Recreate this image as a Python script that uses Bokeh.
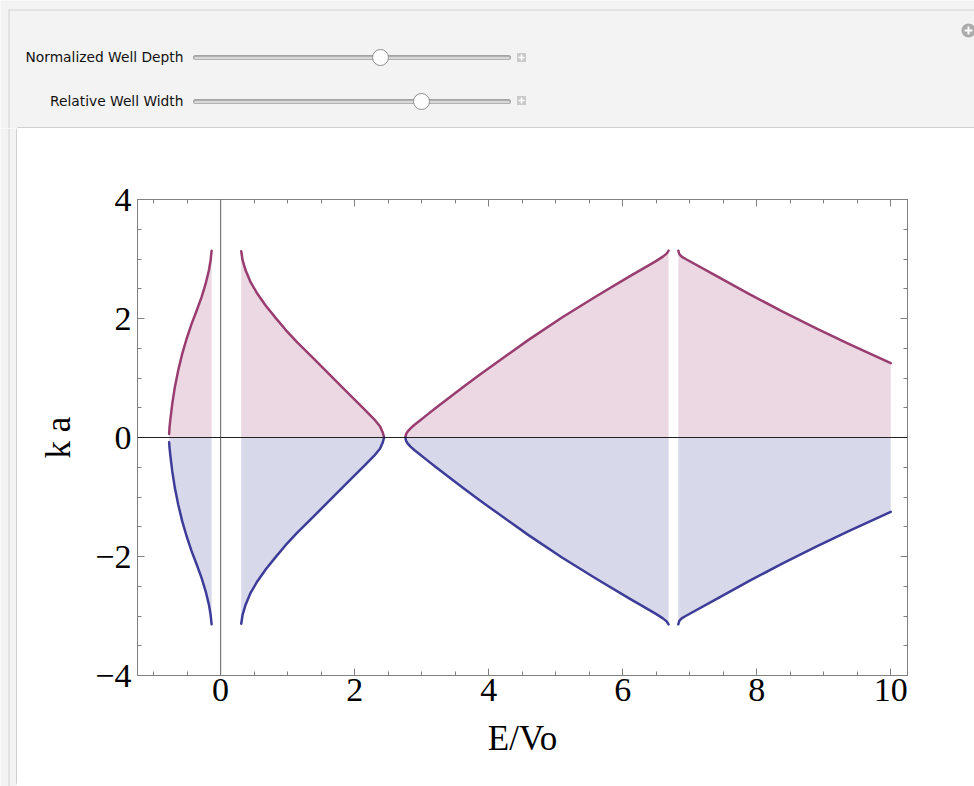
from bokeh.plotting import figure
from bokeh.layouts import column, row
from bokeh.models import Range1d, FixedTicker, LinearAxis, Span
from bokeh.core.properties import value
from bokeh.embed import file_html
from bokeh.resources import INLINE

# ---------------- data ----------------
band1_E = [-0.768, -0.762, -0.751, -0.721, -0.682, -0.632, -0.572, -0.507, -0.433, -0.358, -0.284, -0.224, -0.174, -0.149, -0.134]
band1_up = [0.06, 0.17, 0.29, 0.57, 0.85, 1.13, 1.41, 1.66, 1.91, 2.13, 2.36, 2.58, 2.81, 2.98, 3.14]
band1_dn = [-0.08, -0.17, -0.29, -0.57, -0.85, -1.13, -1.41, -1.66, -1.91, -2.13, -2.36, -2.58, -2.81, -2.98, -3.14]

band2_E = [0.308, 0.328, 0.373, 0.448, 0.547, 0.672, 0.821, 0.970, 1.144, 1.393, 1.642, 1.891, 2.139, 2.289, 2.378, 2.418, 2.433, 2.44]
band2_up = [3.13, 2.98, 2.81, 2.61, 2.42, 2.22, 2.01, 1.81, 1.60, 1.32, 1.04, 0.76, 0.48, 0.31, 0.19, 0.09, 0.03, 0.0]
band2_dn = [-3.13, -2.98, -2.81, -2.61, -2.42, -2.22, -2.01, -1.81, -1.60, -1.32, -1.04, -0.76, -0.48, -0.31, -0.19, -0.09, -0.03, 0.0]

band3_E = [2.76, 2.762, 2.77, 2.79, 2.83, 2.89, 2.97, 3.08, 3.21, 3.40, 3.61, 3.85, 4.10, 4.60, 5.10, 5.60, 6.09, 6.49, 6.60, 6.655, 6.685]
band3_up = [0.0, 0.03, 0.06, 0.10, 0.15, 0.21, 0.28, 0.38, 0.495, 0.66, 0.84, 1.04, 1.245, 1.645, 2.02, 2.37, 2.70, 2.96, 3.04, 3.09, 3.14]
band3_dn = [0.0, -0.03, -0.06, -0.10, -0.15, -0.21, -0.28, -0.38, -0.495, -0.66, -0.84, -1.04, -1.245, -1.645, -2.02, -2.37, -2.70, -2.96, -3.04, -3.09, -3.14]

band4_E = [6.83, 6.845, 6.88, 6.94, 7.39, 7.89, 8.38, 8.88, 9.38, 10.0]
band4_up = [3.14, 3.08, 3.04, 3.00, 2.72, 2.41, 2.12, 1.84, 1.57, 1.25]
band4_dn = [-3.14, -3.08, -3.04, -3.00, -2.72, -2.41, -2.12, -1.84, -1.57, -1.25]

x_ticks = [0, 2, 4, 6, 8, 10]
x_tick_labels = ["0", "2", "4", "6", "8", "10"]
y_ticks = [-4, -2, 0, 2, 4]
y_tick_labels = ["\u22124", "\u22122", "0", "2", "4"]
x_minor = [-1.0, -0.5, 0.5, 1.0, 1.5, 2.5, 3.0, 3.5, 4.5, 5.0, 5.5, 6.5, 7.0, 7.5, 8.5, 9.0, 9.5]
y_minor = [-3.5, -3.0, -2.5, -1.5, -1.0, -0.5, 0.5, 1.0, 1.5, 2.5, 3.0, 3.5]

control_labels = ["Normalized Well Depth", "Relative Well Width"]

UP_LINE = "#993D71"
DN_LINE = "#3D3D99"
UP_FILL = "#EBD8E3"
DN_FILL = "#D8D8EB"
PANEL = "#F3F3F3"
SERIF = "Liberation Serif"


def bare(fig):
    fig.axis.visible = False
    fig.grid.visible = False
    fig.outline_line_color = None
    fig.background_fill_color = PANEL
    fig.border_fill_color = PANEL


# ---------------- controls panel (page y 0..128) ----------------
c = figure(width=974, height=128, x_range=Range1d(0, 974), y_range=Range1d(128, 0),
           output_backend="svg", toolbar_location=None, min_border=0)
bare(c)
c.segment(x0=[8, 8.5], y0=[9.5, 9], x1=[974, 8.5], y1=[9.5, 128], line_color="#D2D2D2", line_width=1)
c.segment(x0=[17], y0=[127.5], x1=[974], y1=[127.5], line_color="#C4C4C4", line_width=1.5)

label_y = [56, 100]
knob_x = [380, 421]
c.text(x=[183, 183], y=label_y, text=control_labels, text_align="right", text_baseline="middle",
       text_font=value("DejaVu Sans"), text_font_size="13.8px", text_color="#111111")
c.segment(x0=[195, 195], y0=[57, 101], x1=[508, 508], y1=[57, 101], line_color="#A4A4A4",
          line_width=5, line_cap="round")
c.segment(x0=[195, 195], y0=[57.5, 101.5], x1=[508, 508], y1=[57.5, 101.5], line_color="#D8D8D8",
          line_width=2.5, line_cap="round")
c.scatter(x=knob_x, y=[57, 101], marker="circle", size=16, fill_color="#FDFDFD",
          line_color="#8E8E8E", line_width=1)
c.rect(x=[521, 521], y=[57, 100], width=9, height=9, fill_color="#CACACA", line_color=None)
c.segment(x0=[518, 518, 521, 521], y0=[57, 100, 54, 97], x1=[524, 524, 521, 521], y1=[57, 100, 60, 103],
          line_color="white", line_width=1.5)
c.scatter(x=[968], y=[30], marker="circle", size=14, fill_color="#ABABAB", line_color=None)
c.segment(x0=[964, 968], y0=[30, 26], x1=[972, 968], y1=[30, 34], line_color="white", line_width=2)

# ---------------- left strip (page x 0..17) ----------------
s = figure(width=17, height=658, x_range=Range1d(0, 17), y_range=Range1d(0, 658),
           output_backend="svg", toolbar_location=None, min_border=0)
bare(s)
s.segment(x0=[8.5, 16.5], y0=[0, 3], x1=[8.5, 16.5], y1=[658, 658], line_color=["#D2D2D2", "#C4C4C4"],
          line_width=[1, 1.5])

# ---------------- bottom strip ----------------
b = figure(width=957, height=3, x_range=Range1d(0, 957), y_range=Range1d(0, 3),
           output_backend="svg", toolbar_location=None, min_border=0)
bare(b)
b.segment(x0=[0], y0=[2.5], x1=[957], y1=[2.5], line_color="#C4C4C4", line_width=1.5)

# ---------------- main plot ----------------
p = figure(width=957, height=655, x_range=Range1d(-1.24, 10.25), y_range=Range1d(-4, 4),
           output_backend="svg", toolbar_location=None,
           min_border_left=120, min_border_right=67, min_border_top=71, min_border_bottom=108)
p.grid.visible = False
p.background_fill_color = "white"
p.border_fill_color = "white"
p.outline_line_color = "#808080"

bands = [(band1_E, band1_up, band1_dn), (band2_E, band2_up, band2_dn),
         (band3_E, band3_up, band3_dn), (band4_E, band4_up, band4_dn)]
for E, up, dn in bands:
    p.varea(x=E, y1=[0] * len(E), y2=up, fill_color=UP_FILL)
    p.varea(x=E, y1=[0] * len(E), y2=dn, fill_color=DN_FILL)

p.add_layout(Span(location=0, dimension="height", line_color="#7A7A7A", line_width=1.2))
p.add_layout(Span(location=0, dimension="width", line_color="#222222", line_width=1))

for E, up, dn in bands:
    p.line(E, up, line_color=UP_LINE, line_width=2.5, line_join="round", line_cap="round")
    p.line(E, dn, line_color=DN_LINE, line_width=2.5, line_join="round", line_cap="round")


def style_axis(ax, labels):
    ax.axis_line_color = "#808080"
    ax.major_tick_line_color = "#808080"
    ax.minor_tick_line_color = "#808080"
    ax.major_tick_in = 7
    ax.major_tick_out = 0
    ax.minor_tick_in = 4
    ax.minor_tick_out = 0
    if labels:
        ax.major_label_text_font = SERIF
        ax.major_label_text_font_size = "34px"
        ax.major_label_text_color = "black"
        ax.axis_label_text_font = SERIF
        ax.axis_label_text_font_size = "35px"
        ax.axis_label_text_font_style = "normal"
        ax.axis_label_text_color = "black"
    else:
        ax.major_label_text_color = None
        ax.major_label_text_font_size = "8px"
        ax.major_label_standoff = 0


p.xaxis.ticker = FixedTicker(ticks=x_ticks, minor_ticks=x_minor)
p.yaxis.ticker = FixedTicker(ticks=y_ticks, minor_ticks=y_minor)
p.xaxis.major_label_overrides = dict(zip(x_ticks, x_tick_labels))
p.yaxis.major_label_overrides = dict(zip(y_ticks, y_tick_labels))
p.xaxis.axis_label = "E/Vo"
p.yaxis.axis_label = "k a"
style_axis(p.xaxis[0], True)
style_axis(p.yaxis[0], True)
p.xaxis.major_label_standoff = 3
p.yaxis.major_label_standoff = 6
p.xaxis.axis_label_standoff = 15
p.yaxis.axis_label_standoff = 14

top = LinearAxis(ticker=FixedTicker(ticks=x_ticks, minor_ticks=x_minor))
right = LinearAxis(ticker=FixedTicker(ticks=y_ticks, minor_ticks=y_minor))
style_axis(top, False)
style_axis(right, False)
p.add_layout(top, "above")
p.add_layout(right, "right")

layout = column(c, row(s, column(p, b, spacing=0), spacing=0), spacing=0)
open("out.html", "w").write(file_html(layout, INLINE))
